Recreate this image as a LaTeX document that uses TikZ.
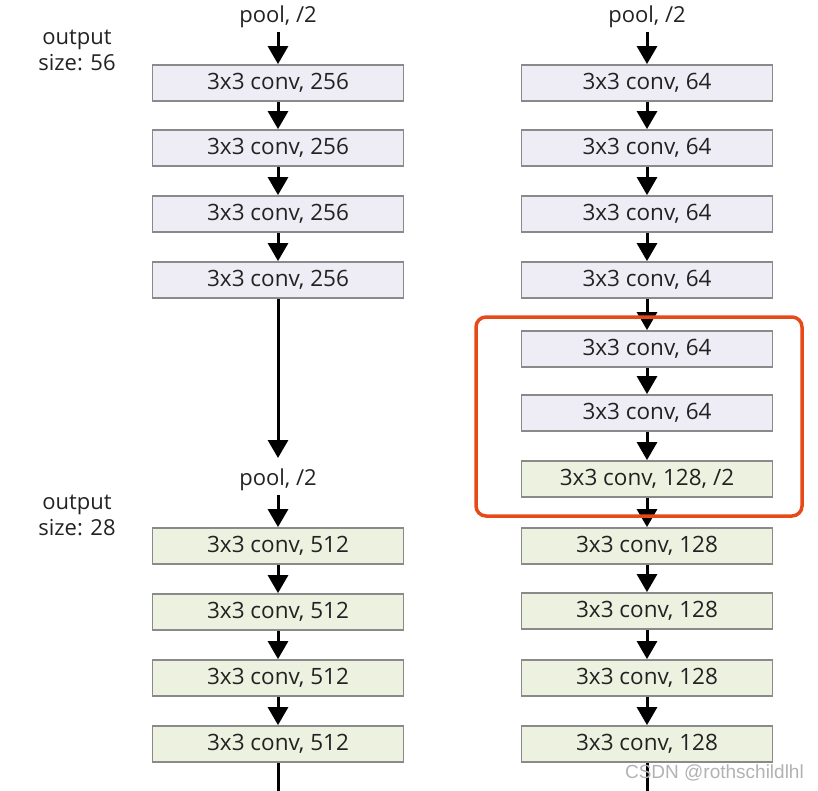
\documentclass[tikz,border=0pt]{standalone}
\usepackage{fontspec}
\setmainfont{Open Sans}
\newfontfamily\wmfont{Liberation Sans}
\usetikzlibrary{arrows.meta}
\definecolor{lav}{HTML}{EEEDF5}
\definecolor{grn}{HTML}{EDF1E0}
\definecolor{bord}{HTML}{8A8A8A}
\definecolor{org}{HTML}{E64A19}
\definecolor{txt}{HTML}{222222}
\begin{document}
\begin{tikzpicture}[x=1pt,y=-1pt,
  box/.style={draw=bord,line width=1.8pt,minimum width=251pt,minimum height=36pt,inner sep=0pt,text=txt,font=\fontsize{22.5}{24}\selectfont},
  lbox/.style={box,fill=lav},
  gbox/.style={box,fill=grn},
  lab/.style={font=\fontsize{22}{26}\selectfont,text=txt,inner sep=0pt},
  conn/.style={line width=3pt,-{Triangle[width=20pt,length=18pt]}},
  plain/.style={line width=3pt}]
\useasboundingbox (0,0) rectangle (818,790);
% left column
\node[lab] (lp1) at (278,17) {pool, /2};
\node[lab,align=center] (lo1) at (77,50) {output\\size: 56};
\node[lbox] (l1) at (278,83) {3x3 conv, 256};
\node[lbox] (l2) at (278,148) {3x3 conv, 256};
\node[lbox] (l3) at (278,214) {3x3 conv, 256};
\node[lbox] (l4) at (278,280) {3x3 conv, 256};
\coordinate (lt) at (278,458);
\node[lab] (lp2) at (278,480) {pool, /2};
\node[lab,align=center] (lo2) at (77,515) {output\\size: 28};
\node[gbox] (l5) at (278,546) {3x3 conv, 512};
\node[gbox] (l6) at (278,612) {3x3 conv, 512};
\node[gbox] (l7) at (278,678) {3x3 conv, 512};
\node[gbox] (l8) at (278,744) {3x3 conv, 512};
\coordinate (lend) at (278,791);
\draw[conn] (lp1.south)+(0,4) -- (l1.north);
\draw[conn] (l1) -- (l2);
\draw[conn] (l2) -- (l3);
\draw[conn] (l3) -- (l4);
\draw[conn] (l4.south) -- (lt);
\draw[conn] (lp2.south)+(0,4) -- (l5.north);
\draw[conn] (l5) -- (l6);
\draw[conn] (l6) -- (l7);
\draw[conn] (l7) -- (l8);
\draw[plain] (l8.south) -- (lend);
% right column
\node[lab] (rp1) at (647,17) {pool, /2};
\node[lbox] (r1) at (647,83) {3x3 conv, 64};
\node[lbox] (r2) at (647,148) {3x3 conv, 64};
\node[lbox] (r3) at (647,214) {3x3 conv, 64};
\node[lbox] (r4) at (647,280) {3x3 conv, 64};
\node[lbox] (r5) at (647,349) {3x3 conv, 64};
\node[lbox] (r6) at (647,413) {3x3 conv, 64};
\node[gbox] (r7) at (647,479) {3x3 conv, 128, /2};
\node[gbox] (r8) at (647,546) {3x3 conv, 128};
\node[gbox] (r9) at (647,611) {3x3 conv, 128};
\node[gbox] (r10) at (647,678) {3x3 conv, 128};
\node[gbox] (r11) at (647,744) {3x3 conv, 128};
\coordinate (rend) at (647,791);
\draw[conn] (rp1.south)+(0,4) -- (r1.north);
\foreach \a/\b in {r1/r2,r2/r3,r3/r4,r4/r5,r5/r6,r6/r7,r7/r8,r8/r9,r9/r10,r10/r11}
  \draw[conn] (\a) -- (\b);
\draw[plain] (r11.south) -- (rend);
% highlight
\draw[org,line width=3.5pt,rounded corners=10pt] (476,317) rectangle (802,516);
% watermark
\node[font=\wmfont\fontsize{19}{21}\selectfont,text=gray!60,inner sep=0pt,anchor=east] (wm) at (804,773) {CSDN @rothschildlhl};
\end{tikzpicture}
\end{document}
